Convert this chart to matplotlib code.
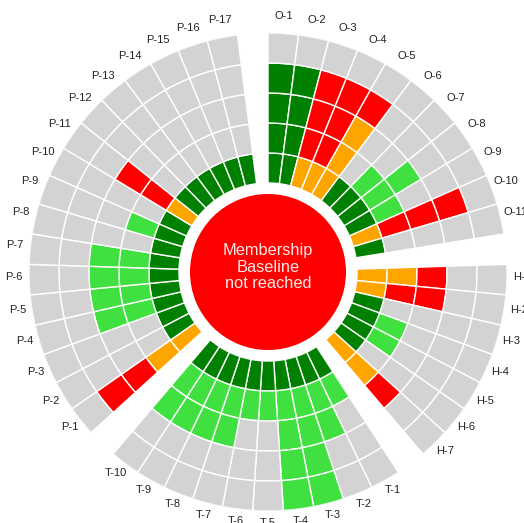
import numpy as np
import matplotlib
matplotlib.use("Agg")
import matplotlib.pyplot as plt
from matplotlib.transforms import offset_copy

# status per item, inner ring -> outer ring
# G = achieved, L = partly, O = warning, R = failed, X = not assessed
o_status = ["GGGGX", "GGGGX", "ORRRX", "ORRRX", "OOORX", "GXXXX",
            "GLXXX", "GLLXX", "GLXXX", "ORRRX", "GXXXX"]
h_status = ["OORXX", "ORRXX", "GXXXX", "GLXXX", "GLXXX", "GXXXX", "OORXX"]
t_status = ["GLXXX", "GLLXX", "GLLLL", "GLLLL", "GLXXX", "GLXXX",
            "GLLXX", "GLLXX", "GLLXX", "GLLXX"]
p_status = ["OORRX", "GXXXX", "GXXXX", "GLLXX", "GLLXX", "GLLXX", "GLLXX",
            "GXXXX", "GLXXX", "GXXXX", "ORRXX", "GXXXX", "GXXXX", "GXXXX",
            "GXXXX", "GXXXX", "GXXXX"]

groups = [("O", o_status), ("H", h_status), ("T", t_status), ("P", p_status)]
center_text = "Membership\nBaseline\nnot reached"

colors = {"G": "#008000", "L": "#40e040", "O": "#ffa500",
          "R": "#ff0000", "X": "#d3d3d3"}

n_slots = sum(len(s) for _, s in groups) + len(groups)
slot = 2 * np.pi / n_slots
r_in, ring_w, r_core = 89, 30, 78

W, H = 524, 523
fig = plt.figure(figsize=(W / 100, H / 100), dpi=100)
cx, cy, R = 268, 272, 239
ax = fig.add_axes([(cx - R) / W, (H - cy - R) / H, 2 * R / W, 2 * R / H],
                  projection="polar")
ax.set_theta_zero_location("N")
ax.set_theta_direction(-1)
ax.set_ylim(0, R)
ax.set_axis_off()

# centre disc
ax.bar(0, r_core, width=2 * np.pi, bottom=0, color="#ff0000", edgecolor="none")
fig.text(cx / W, 1 - 267 / H, center_text, ha="center", va="center",
         color="#ffe8e8", fontsize=11.8, family="Liberation Sans",
         linespacing=1.12)

label_tr = offset_copy(ax.transData, fig=fig, y=3, units="dots")
idx = 0
for prefix, status in groups:
    for i, s in enumerate(status):
        theta = (idx + 0.5) * slot
        for ring, c in enumerate(s):
            ax.bar(theta, ring_w, width=slot, bottom=r_in + ring * ring_w,
                   color=colors[c], edgecolor="white", linewidth=1.0)
        ax.text(theta, 254, f"{prefix}-{i + 1}", ha="center", va="center",
                fontsize=8, color="#222222", family="Liberation Sans",
                transform=label_tr)
        idx += 1
    idx += 1  # gap between groups

fig.savefig("out.png", dpi=100)
